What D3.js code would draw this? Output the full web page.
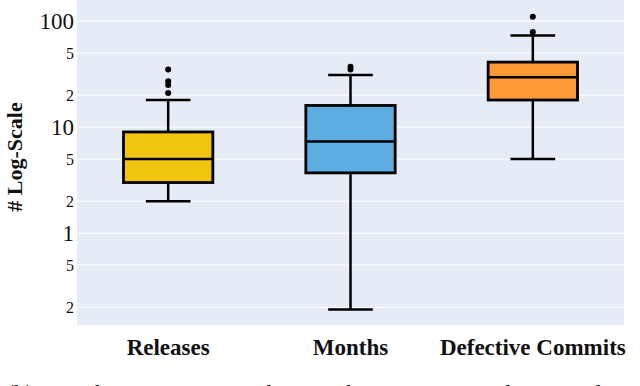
<!DOCTYPE html>
<html>
<head>
<meta charset="utf-8">
<script src="https://cdn.jsdelivr.net/npm/d3@7"></script>
<style>
  body { margin: 0; background: #fff; }
  svg { display: block; font-family: "Liberation Serif", "Times New Roman", serif; }
</style>
</head>
<body>
<div id="chart"></div>
<script>
const categories = ["Releases", "Months", "Defective Commits"];
const lowerWhisker = [2, 0.19, 5];
const q1 = [3, 3.7, 18];
const median = [5, 7.3, 29.5];
const q3 = [9, 16, 41];
const upperWhisker = [18, 31, 73];
const outliers = [[21, 25, 27, 35], [35, 37], [79, 110]];
const colors = ["#f1c40f", "#5dade2", "#ff9933"];
const tickValues = [0.2, 0.5, 1, 2, 5, 10, 20, 50, 100];

const width = 640, height = 386;
const margin = {top: 0, right: 16, bottom: 61, left: 77};

const svg = d3.select("#chart")
  .append("svg")
  .attr("width", width)
  .attr("height", height);

const x = d3.scalePoint()
  .domain(categories)
  .range([margin.left, width - margin.right])
  .padding(0.5);

const y = d3.scaleLog()
  .domain([0.136, 158])
  .range([height - margin.bottom, margin.top]);

const step = x.step();
const boxW = step * 0.49;

// plot background
svg.append("rect")
  .attr("x", margin.left)
  .attr("y", margin.top)
  .attr("width", width - margin.left - margin.right)
  .attr("height", height - margin.top - margin.bottom)
  .attr("fill", "#e5ecf6");

// gridlines
svg.append("g")
  .selectAll("line")
  .data(tickValues)
  .join("line")
  .attr("x1", margin.left)
  .attr("x2", width - margin.right)
  .attr("y1", d => y(d))
  .attr("y2", d => y(d))
  .attr("stroke", "#fff")
  .attr("stroke-width", 1);

// y tick labels, minor ones show only the leading digit
const isMajor = d => Math.abs(Math.log10(d) - Math.round(Math.log10(d))) < 1e-9;
svg.append("g")
  .selectAll("text")
  .data(tickValues)
  .join("text")
  .attr("x", margin.left - 3)
  .attr("y", d => y(d))
  .attr("dy", "0.35em")
  .attr("text-anchor", "end")
  .attr("font-size", d => isMajor(d) ? 23 : 16)
  .attr("fill", "#111")
  .text(d => isMajor(d) ? d3.format("~g")(d) : String(d).replace("0.", "")[0]);

// y title
svg.append("text")
  .attr("transform", "translate(22,157) rotate(-90)")
  .attr("text-anchor", "middle")
  .attr("font-size", 22)
  .attr("font-weight", "bold")
  .attr("fill", "#111")
  .text("# Log-Scale");

// x labels
svg.append("g")
  .selectAll("text")
  .data(categories)
  .join("text")
  .attr("x", d => x(d))
  .attr("y", 355)
  .attr("text-anchor", "middle")
  .attr("font-size", 23)
  .attr("font-weight", "bold")
  .attr("fill", "#111")
  .text(d => d);

// boxes
const boxes = svg.append("g")
  .selectAll("g")
  .data(categories)
  .join("g");

boxes.append("line")
  .attr("x1", d => x(d)).attr("x2", d => x(d))
  .attr("y1", (d, i) => y(upperWhisker[i]))
  .attr("y2", (d, i) => y(lowerWhisker[i]))
  .attr("stroke", "#000").attr("stroke-width", 2.5);

boxes.selectAll("line.cap")
  .data((d, i) => [upperWhisker[i], lowerWhisker[i]].map(v => ({c: d, v})))
  .join("line")
  .attr("class", "cap")
  .attr("x1", d => x(d.c) - boxW / 4)
  .attr("x2", d => x(d.c) + boxW / 4)
  .attr("y1", d => y(d.v))
  .attr("y2", d => y(d.v))
  .attr("stroke", "#000").attr("stroke-width", 2.5);

boxes.append("rect")
  .attr("x", d => x(d) - boxW / 2)
  .attr("width", boxW)
  .attr("y", (d, i) => y(q3[i]))
  .attr("height", (d, i) => y(q1[i]) - y(q3[i]))
  .attr("fill", (d, i) => colors[i])
  .attr("stroke", "#000").attr("stroke-width", 2.8);

boxes.append("line")
  .attr("x1", d => x(d) - boxW / 2)
  .attr("x2", d => x(d) + boxW / 2)
  .attr("y1", (d, i) => y(median[i]))
  .attr("y2", (d, i) => y(median[i]))
  .attr("stroke", "#000").attr("stroke-width", 2.5);

boxes.selectAll("circle")
  .data((d, i) => outliers[i].map(v => ({c: d, v})))
  .join("circle")
  .attr("cx", d => x(d.c))
  .attr("cy", d => y(d.v))
  .attr("r", 3)
  .attr("fill", "#000");

// caption, cut off by the bottom edge as in the source figure
svg.append("text")
  .attr("x", 4)
  .attr("y", 401)
  .attr("font-size", 24)
  .attr("font-style", "italic")
  .attr("fill", "#111")
  .text("(b) Key observations – Median, Inclusive Range and Forward");
</script>
</body>
</html>
